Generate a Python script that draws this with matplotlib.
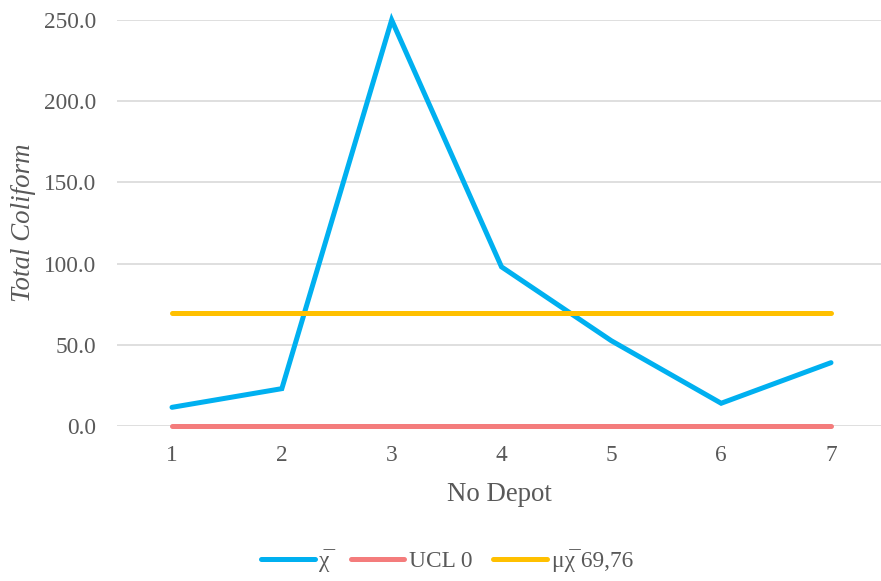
import matplotlib
matplotlib.use("Agg")
import matplotlib.pyplot as plt
from matplotlib.lines import Line2D

plt.rcParams['font.family'] = ['Liberation Serif', 'DejaVu Serif']

depots = [1, 2, 3, 4, 5, 6, 7]
xbar = [11.5, 23.0, 250.0, 98.0, 52.5, 14.0, 39.0]
ucl = [0, 0, 0, 0, 0, 0, 0]
mean_val = [69.76] * 7
yticks = [0, 50, 100, 150, 200, 250]

labels = ["\u03c7\u0305", "UCL 0", "\u03bc\u03c7\u0305 69,76"]
c_blue = "#00B0F0"
c_red = "#F47C7C"
c_yel = "#FFC000"
txt = "#595959"

fig = plt.figure(figsize=(8.81, 5.81), dpi=100)
ax = fig.add_axes([117/881, (581-426)/581, 1 - 117/881, (426-20)/581])

ax.plot(depots, xbar, color=c_blue, lw=3.6, solid_capstyle='round', solid_joinstyle='miter', zorder=3)
ax.plot(depots, ucl, color=c_red, lw=3.6, solid_capstyle='round', zorder=3)
ax.plot(depots, mean_val, color=c_yel, lw=3.6, solid_capstyle='round', zorder=3)

ax.set_xlim(1 - 55/109.83, 7 + 50/109.83)
ax.set_ylim(0, 250)
ax.set_yticks(yticks)
ax.set_yticklabels([f"{v:.1f}" for v in yticks])
ax.set_xticks(depots)
ax.set_xticklabels([str(d) for d in depots])
ax.yaxis.grid(True, color="#D9D9D9", lw=1.2)
ax.set_axisbelow(True)
for s in ax.spines.values():
    s.set_visible(False)
ax.tick_params(length=0, colors=txt, labelsize=16.8)
ax.tick_params(axis='y', pad=15)
ax.tick_params(axis='x', pad=14)
for ln in ax.lines:
    ln.set_clip_on(False)

ax.set_xlabel("No Depot", fontsize=19.4, color=txt, labelpad=11)
ax.set_ylabel("Total Coliform", fontsize=19.4, color=txt, style='italic', labelpad=6)

handles = [Line2D([], [], color=c, lw=3.6, solid_capstyle='round') for c in (c_blue, c_red, c_yel)]
fig.legend(handles, labels, loc='center', bbox_to_anchor=(447/881, 1 - 561/581), ncol=3,
           frameon=False, fontsize=16.8, handlelength=2.3, columnspacing=0.9, handletextpad=0.2,
           labelcolor=txt, borderpad=0)

fig.savefig("out.png", dpi=100)
